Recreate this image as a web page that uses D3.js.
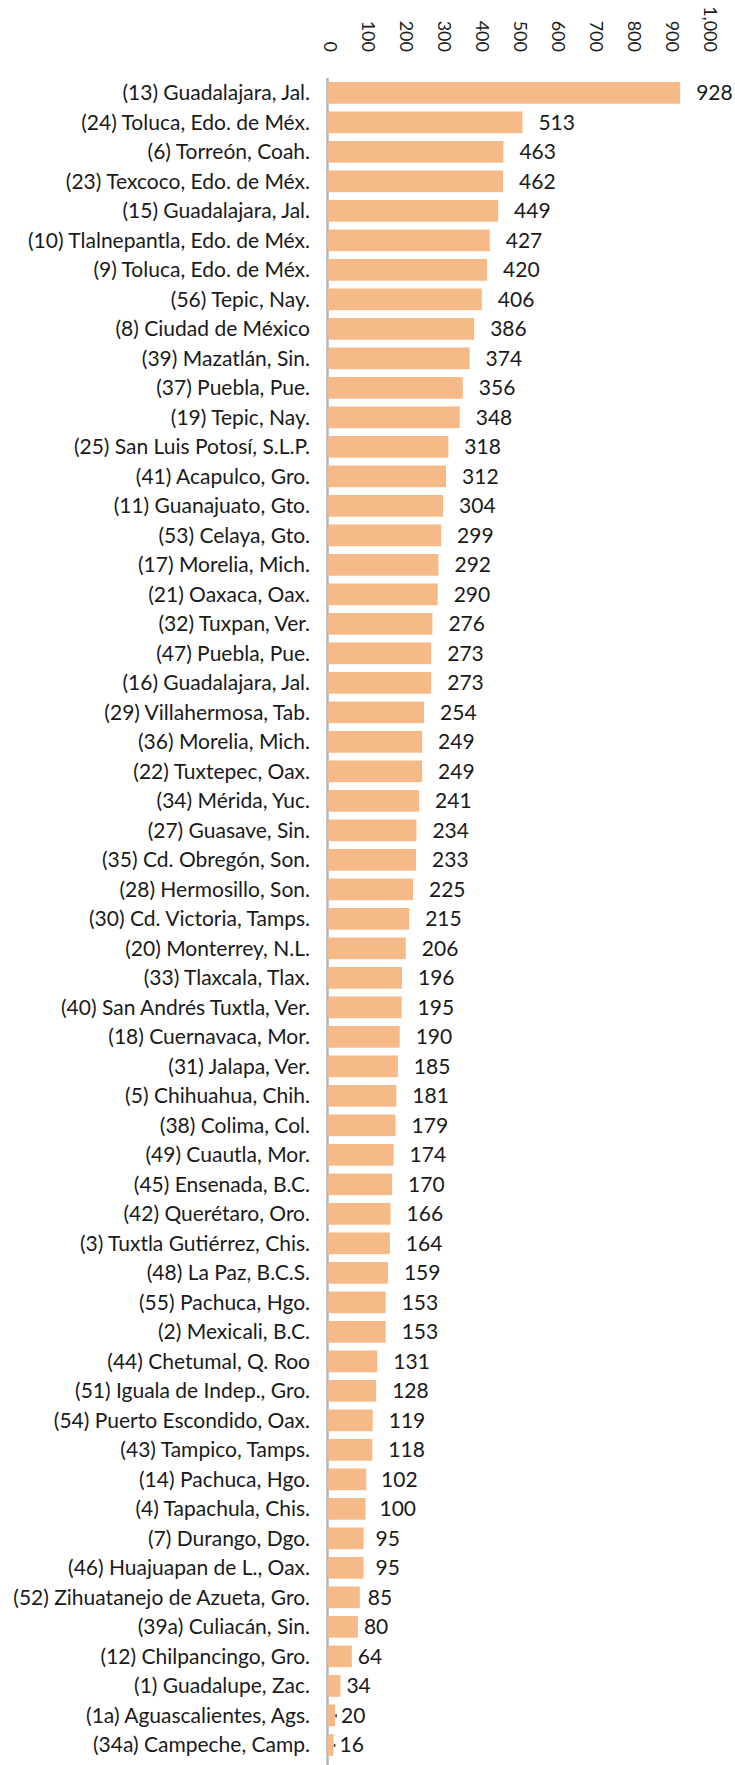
<!DOCTYPE html>
<html>
<head>
<meta charset="utf-8">
<script src="https://cdn.jsdelivr.net/npm/d3@7"></script>
<style>
  html, body { margin: 0; padding: 0; background: #fff; }
  svg { display: block; }
  text { font-family: Lato, "Open Sans", sans-serif; fill: #1a1a1a; }
</style>
</head>
<body>
<svg id="chart" width="735" height="1765"></svg>
<script>
const categories = [
  "(13) Guadalajara, Jal.", "(24) Toluca, Edo. de Méx.", "(6) Torreón, Coah.", "(23) Texcoco, Edo. de Méx.",
  "(15) Guadalajara, Jal.", "(10) Tlalnepantla, Edo. de Méx.", "(9) Toluca, Edo. de Méx.", "(56) Tepic, Nay.",
  "(8) Ciudad de México", "(39) Mazatlán, Sin.", "(37) Puebla, Pue.", "(19) Tepic, Nay.",
  "(25) San Luis Potosí, S.L.P.", "(41) Acapulco, Gro.", "(11) Guanajuato, Gto.", "(53) Celaya, Gto.",
  "(17) Morelia, Mich.", "(21) Oaxaca, Oax.", "(32) Tuxpan, Ver.", "(47) Puebla, Pue.",
  "(16) Guadalajara, Jal.", "(29) Villahermosa, Tab.", "(36) Morelia, Mich.", "(22) Tuxtepec, Oax.",
  "(34) Mérida, Yuc.", "(27) Guasave, Sin.", "(35) Cd. Obregón, Son.", "(28) Hermosillo, Son.",
  "(30) Cd. Victoria, Tamps.", "(20) Monterrey, N.L.", "(33) Tlaxcala, Tlax.", "(40) San Andrés Tuxtla, Ver.",
  "(18) Cuernavaca, Mor.", "(31) Jalapa, Ver.", "(5) Chihuahua, Chih.", "(38) Colima, Col.",
  "(49) Cuautla, Mor.", "(45) Ensenada, B.C.", "(42) Querétaro, Oro.", "(3) Tuxtla Gutiérrez, Chis.",
  "(48) La Paz, B.C.S.", "(55) Pachuca, Hgo.", "(2) Mexicali, B.C.", "(44) Chetumal, Q. Roo",
  "(51) Iguala de Indep., Gro.", "(54) Puerto Escondido, Oax.", "(43) Tampico, Tamps.", "(14) Pachuca, Hgo.",
  "(4) Tapachula, Chis.", "(7) Durango, Dgo.", "(46) Huajuapan de L., Oax.", "(52) Zihuatanejo de Azueta, Gro.",
  "(39a) Culiacán, Sin.", "(12) Chilpancingo, Gro.", "(1) Guadalupe, Zac.", "(1a) Aguascalientes, Ags.",
  "(34a) Campeche, Camp."
];
const values = [
  928, 513, 463, 462, 449, 427, 420, 406, 386, 374, 356, 348, 318, 312, 304, 299,
  292, 290, 276, 273, 273, 254, 249, 249, 241, 234, 233, 225, 215, 206, 196, 195,
  190, 185, 181, 179, 174, 170, 166, 164, 159, 153, 153, 131, 128, 119, 118, 102,
  100, 95, 95, 85, 80, 64, 34, 20, 16
];
const tickValues = [0, 100, 200, 300, 400, 500, 600, 700, 800, 900, 1000];

const data = categories.map((c, i) => ({ category: c, value: values[i] }));

const svg = d3.select("#chart");
const x0 = 327.5;
const x = d3.scaleLinear().domain([0, 1000]).range([x0, x0 + 380]);
const y = d3.scaleBand().domain(categories).range([78.1, 1759.6])
  .paddingInner(0.264).paddingOuter(0.132);

// top axis with rotated labels
const axis = svg.append("g").attr("transform", "translate(0,52)")
  .call(d3.axisTop(x).tickValues(tickValues).tickFormat(d3.format(",")).tickSize(0).tickPadding(0));
axis.select(".domain").remove();
axis.selectAll("text")
  .attr("transform", "rotate(90)")
  .attr("x", 0).attr("y", 0)
  .attr("dy", "0.22em")
  .attr("text-anchor", "end")
  .style("font-size", "18px")
  .style("font-family", "Lato, sans-serif")
  .attr("fill", "#1a1a1a");

// vertical baseline
svg.append("line")
  .attr("x1", x(0)).attr("x2", x(0))
  .attr("y1", 78).attr("y2", 1765)
  .attr("stroke", "#b3b3bb").attr("stroke-width", 2.5);

// bars
svg.append("g").selectAll("rect").data(data).join("rect")
  .attr("x", x(0))
  .attr("y", d => y(d.category))
  .attr("width", d => x(d.value) - x(0))
  .attr("height", y.bandwidth())
  .attr("fill", "#f5ba87");

// category labels
svg.append("g").selectAll("text").data(data).join("text")
  .attr("x", 310)
  .attr("y", d => y(d.category) + y.bandwidth() / 2)
  .attr("dy", "0.35em")
  .attr("text-anchor", "end")
  .style("font-size", "21px")
  .text(d => d.category);

// value labels
const gap = v => Math.max(6, Math.min(16, 6 + (v - 80) * 0.4));
svg.append("g").selectAll("text").data(data).join("text")
  .attr("x", d => x(d.value) + gap(d.value))
  .attr("y", d => y(d.category) + y.bandwidth() / 2)
  .attr("dy", "0.35em")
  .style("font-size", "21px")
  .text(d => d3.format(",")(d.value));

// tiny leader marks for the smallest labels
svg.append("g").selectAll("line").data(data.filter(d => d.value < 30)).join("line")
  .attr("x1", d => x(d.value) + 1).attr("x2", d => x(d.value) + 1)
  .attr("y1", d => y(d.category) + y.bandwidth() / 2 - 1)
  .attr("y2", d => y(d.category) + y.bandwidth() / 2 + 2)
  .attr("stroke", "#333").attr("stroke-width", 1.5);
</script>
</body>
</html>
